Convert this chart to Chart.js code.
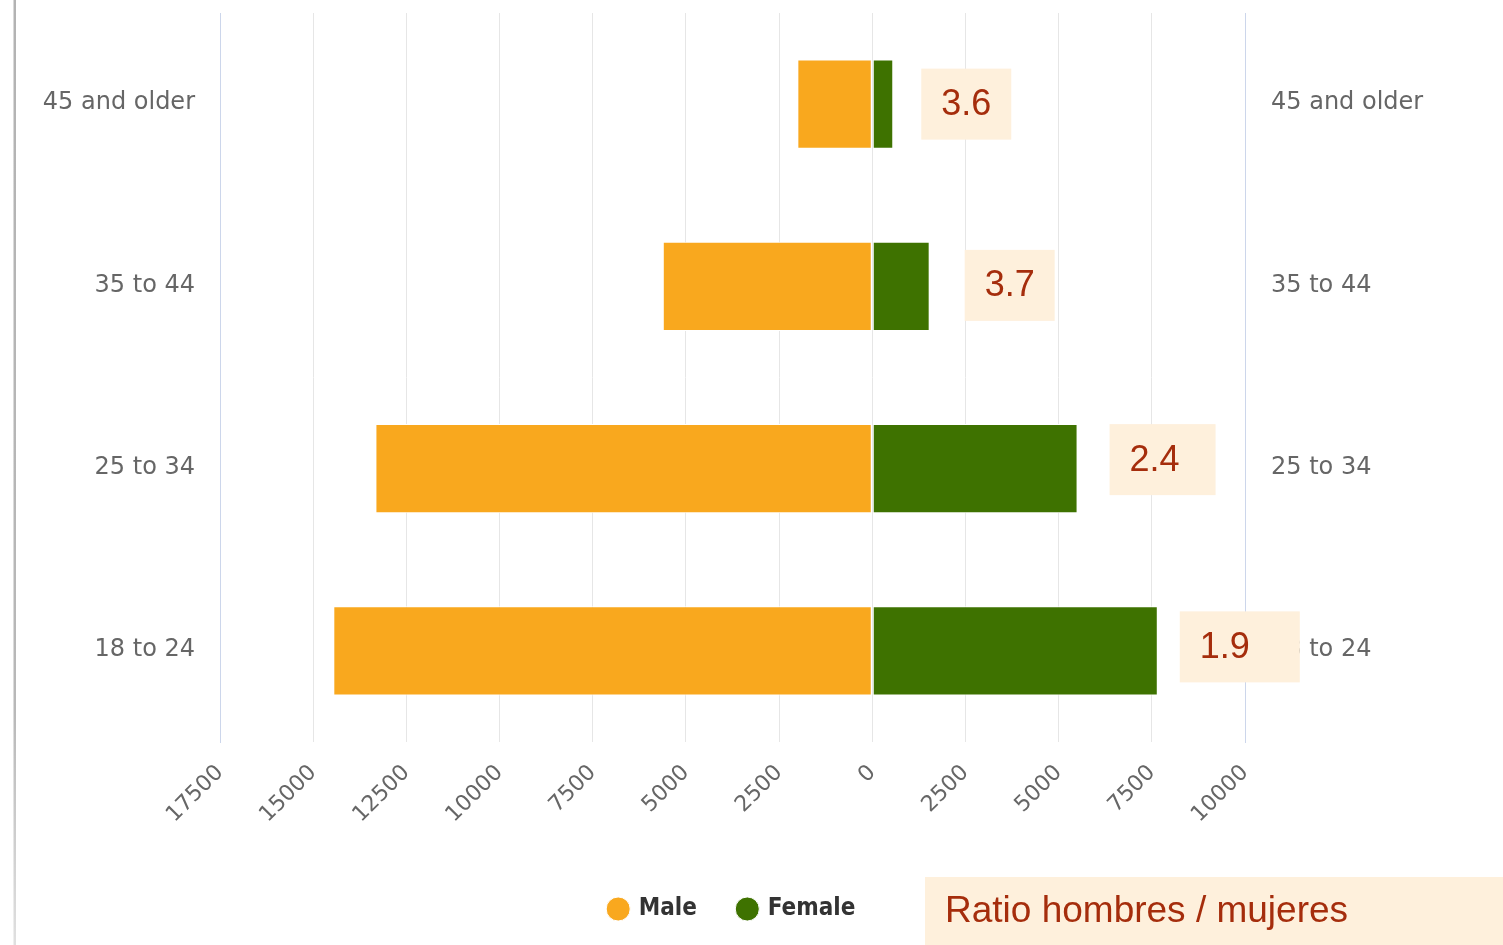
<!DOCTYPE html>
<html>
<head>
<meta charset="utf-8">
<script src="https://cdn.jsdelivr.net/npm/chart.js@4.4.1/dist/chart.umd.min.js"></script>
<style>
  html, body { margin: 0; padding: 0; background: #ffffff; }
  #wrap { position: relative; width: 1503px; height: 945px; }
</style>
</head>
<body>
<div id="wrap"><canvas id="c"></canvas></div>
<script>
const categories = ['45 and older', '35 to 44', '25 to 34', '18 to 24'];
const maleValues = [2010, 5620, 13330, 14460];
const femaleValues = [563, 1540, 5508, 7660];
const ratioLabels = ['3.6', '3.7', '2.4', '1.9'];
const xTickMin = -17500;
const xTickMax = 10000;
const xTickStep = 2500;
const legendTitle = 'Ratio hombres / mujeres';

const TICK_FONT = "'DejaVu Sans', sans-serif";
const ANNO_FONT = "'Liberation Sans', Arial, sans-serif";

const decorPlugin = {
  id: 'decor',
  beforeDraw(chart) {
    const ctx = chart.ctx;
    ctx.save();
    const g = ctx.createLinearGradient(0, 0, 0, chart.height);
    g.addColorStop(0, '#b3b3b3');
    g.addColorStop(0.75, '#b8b8b8');
    g.addColorStop(1, '#e0e0e0');
    ctx.fillStyle = g;
    ctx.fillRect(13.5, 0, 2.5, chart.height);
    ctx.restore();
  },
  afterDraw(chart, args, opts) {
    const ctx = chart.ctx;
    const xs = chart.scales.x;
    const meta = chart.getDatasetMeta(1);
    ctx.save();
    ctx.font = '36px ' + ANNO_FONT;
    ctx.textBaseline = 'middle';
    ctx.textAlign = 'left';
    opts.labels.forEach((txt, i) => {
      const el = meta.data[i];
      const left = xs.getPixelForValue(femaleValues[i]) + opts.gaps[i];
      const yc = el.y + (opts.yShift[i] || 0);
      const w = opts.widths[i];
      const h = 71;
      ctx.fillStyle = '#fef0dc';
      ctx.fillRect(left, yc - h / 2, w, h);
      ctx.fillStyle = '#a52d0c';
      ctx.fillText(txt, left + 20, yc + 1);
    });
    // bottom-right note box
    ctx.fillStyle = '#fef0dc';
    ctx.fillRect(925, 877, chart.width - 925, 68);
    ctx.fillStyle = '#a52d0c';
    ctx.font = '37px ' + ANNO_FONT;
    ctx.fillText(legendTitle, 945, 912);
    ctx.restore();
  }
};

function fixVertical(width) {
  return s => {
    s.width = width;
    s.paddingTop = 0;
    s.paddingBottom = 0;
  };
}

new Chart(document.getElementById('c'), {
  type: 'bar',
  data: {
    labels: categories,
    datasets: [
      {
        label: 'Male',
        data: maleValues.map(v => -v),
        backgroundColor: '#f9a81e',
        borderColor: '#ffffff',
        borderWidth: 1,
        borderSkipped: false,
        categoryPercentage: 1,
        barPercentage: 0.49
      },
      {
        label: 'Female',
        data: femaleValues,
        backgroundColor: '#3e7200',
        borderColor: '#ffffff',
        borderWidth: 1,
        borderSkipped: false,
        categoryPercentage: 1,
        barPercentage: 0.49
      }
    ]
  },
  options: {
    indexAxis: 'y',
    responsive: true,
    maintainAspectRatio: false,
    animation: false,
    layout: { padding: { top: 13, right: 38, bottom: 14, left: 0 } },
    scales: {
      x: {
        stacked: true,
        min: xTickMin,
        max: xTickMax,
        grid: { color: '#e6e6e6', lineWidth: 1, drawTicks: false },
        border: { display: false },
        ticks: {
          stepSize: xTickStep,
          autoSkip: false,
          maxRotation: 45,
          minRotation: 45,
          padding: 18,
          color: '#666666',
          font: { family: TICK_FONT, size: 22 },
          callback: v => Math.abs(v)
        },
        afterFit: s => { s.height = 113; s.paddingLeft = 0; s.paddingRight = 0; }
      },
      y: {
        stacked: true,
        position: 'left',
        grid: { display: false, drawTicks: false },
        border: { display: true, color: '#ccd6eb', width: 1 },
        ticks: {
          padding: 25,
          labelOffset: -1,
          color: '#666666',
          font: { family: TICK_FONT, size: 24 }
        },
        afterFit: fixVertical(220)
      },
      y2: {
        type: 'category',
        labels: categories,
        position: 'right',
        offset: true,
        grid: { display: false, drawTicks: false },
        border: { display: true, color: '#ccd6eb', width: 1 },
        ticks: {
          padding: 26,
          labelOffset: -1,
          color: '#666666',
          font: { family: TICK_FONT, size: 24 }
        },
        afterFit: fixVertical(220)
      }
    },
    plugins: {
      title: { display: false },
      tooltip: { enabled: false },
      legend: {
        display: true,
        position: 'bottom',
        align: 'center',
        labels: {
          usePointStyle: true,
          pointStyle: 'circle',
          boxWidth: 17,
          boxHeight: 17,
          padding: 42,
          color: '#333333',
          font: { family: "'DejaVu Sans Condensed', 'DejaVu Sans', sans-serif", size: 24, weight: 'bold' }
        }
      },
      decor: {
        labels: ratioLabels,
        widths: [90, 90, 106, 120],
        gaps: [28, 35, 32, 22],
        yShift: [0, -1, -9, -4]
      }
    }
  },
  plugins: [decorPlugin]
});
</script>
</body>
</html>
